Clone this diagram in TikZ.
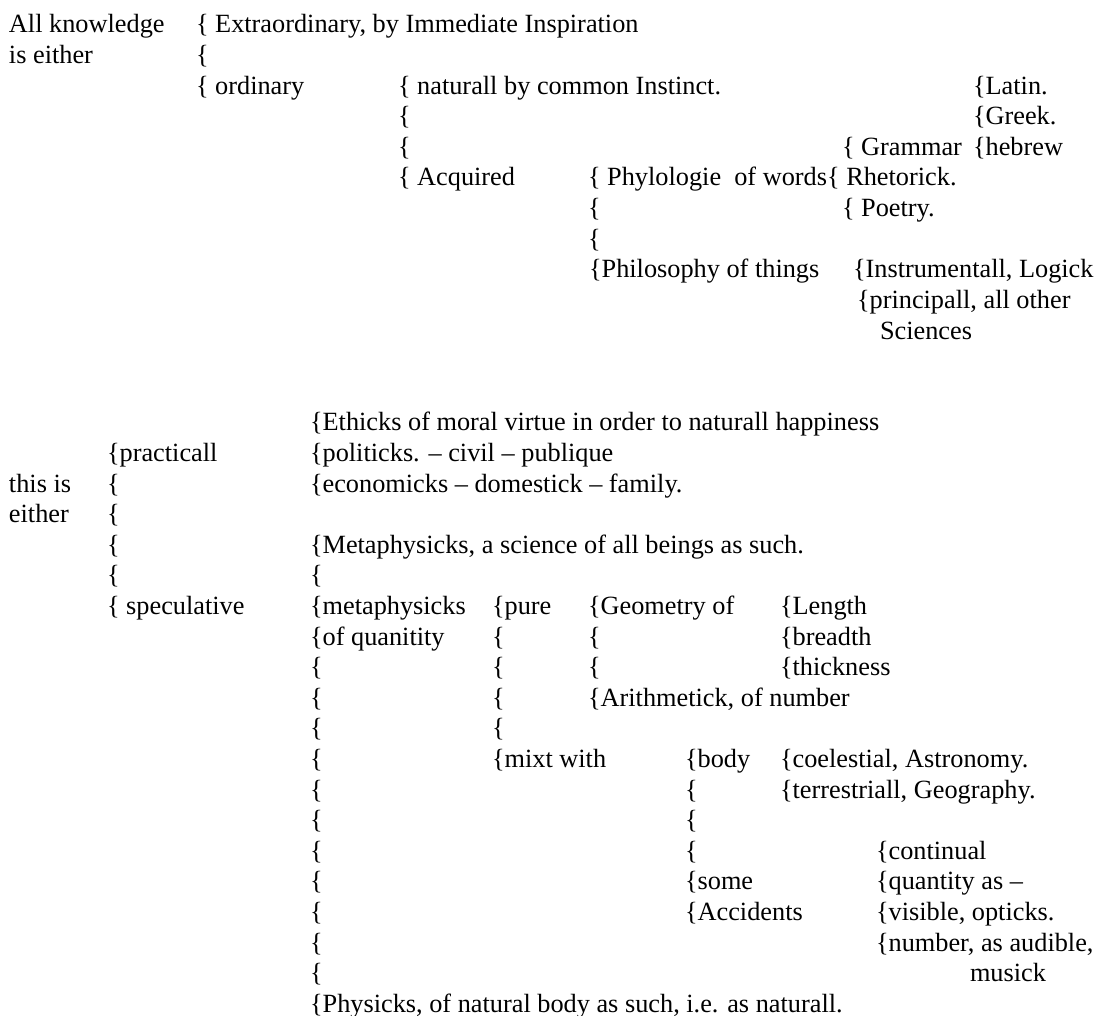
\documentclass[tikz,border=0pt]{standalone}
\usepackage{fontspec}
\setmainfont{Liberation Serif}
\newcommand{\rowfont}{\fontsize{26.3}{30.6}\selectfont}
\begin{document}
\begin{tikzpicture}[x=1pt,y=-1pt,
  txt/.style={anchor=base west, inner sep=0pt, outer sep=0pt, font=\rowfont, text=black}]
\fill[white] (0,0) rectangle (1099,1016);
\useasboundingbox (0,0) rectangle (1099,1016);
% ---- upper part ----
\node[txt] (allk) at (9,33) {All knowledge};
\node[txt] (iseither) at (9,63.6) {is either};
\node[txt] (extra) at (196,33) {\{ Extraordinary, by Immediate Inspiration};
\node[txt] (a1) at (196,63.6) {\{};
\node[txt] (ordinary) at (196,94.2) {\{ ordinary};
\node[txt] (naturall) at (398,94.2) {\{ naturall by common Instinct.};
\node[txt] (b1) at (398,124.8) {\{};
\node[txt] (b2) at (398,155.4) {\{};
\node[txt] (acquired) at (398,186) {\{ Acquired};
\node[txt] (latin) at (973,94.2) {\{Latin.};
\node[txt] (greek) at (973,124.8) {\{Greek.};
\node[txt] (hebrew) at (973,155.4) {\{hebrew};
\node[txt] (grammar) at (842,155.4) {\{ Grammar};
\node[txt] (phylo) at (588,186) {\{ Phylologie~ of words\{ Rhetorick.};
\node[txt] (c1) at (588,216.6) {\{};
\node[txt] (poetry) at (842,216.6) {\{ Poetry.};
\node[txt] (c2) at (588,247.2) {\{};
\node[txt] (philo) at (589,277.8) {\{Philosophy of things};
\node[txt] (instr) at (853,277.8) {\{Instrumentall, Logick};
\node[txt] (princ) at (857,308.4) {\{principall, all other};
\node[txt] (sciences) at (880,339) {Sciences};
% ---- lower part ----
\node[txt] (ethicks) at (310,430.8) {\{Ethicks of moral virtue in order to naturall happiness};
\node[txt] (practicall) at (107,461.4) {\{practicall};
\node[txt] (politicks) at (310,461.4) {\{politicks. – civil – publique};
\node[txt] (thisis) at (9,492) {this is};
\node[txt] (d1) at (107,492) {\{};
\node[txt] (econ) at (310,492) {\{economicks – domestick – family.};
\node[txt] (either) at (9,522.6) {either};
\node[txt] (d2) at (107,522.6) {\{};
\node[txt] (d3) at (107,553.2) {\{};
\node[txt] (metaph) at (310,553.2) {\{Metaphysicks, a science of all beings as such.};
\node[txt] (d4) at (107,583.8) {\{};
\node[txt] (e1) at (310,583.8) {\{};
\node[txt] (specul) at (107,614.4) {\{ speculative};
\node[txt] (metaq) at (310,614.4) {\{metaphysicks};
\node[txt] (pure) at (492,614.4) {\{pure};
\node[txt] (geom) at (588,614.4) {\{Geometry of};
\node[txt] (length) at (780,614.4) {\{Length};
\node[txt] (ofq) at (310,645) {\{of quanitity};
\node[txt] (f1) at (492,645) {\{};
\node[txt] (g1) at (588,645) {\{};
\node[txt] (breadth) at (780,645) {\{breadth};
\node[txt] (e2) at (310,675.6) {\{};
\node[txt] (f2) at (492,675.6) {\{};
\node[txt] (g2) at (588,675.6) {\{};
\node[txt] (thick) at (780,675.6) {\{thickness};
\node[txt] (e3) at (310,706.2) {\{};
\node[txt] (f3) at (492,706.2) {\{};
\node[txt] (arith) at (588,706.2) {\{Arithmetick, of number};
\node[txt] (e4) at (310,736.8) {\{};
\node[txt] (f4) at (492,736.8) {\{};
\node[txt] (e5) at (310,767.4) {\{};
\node[txt] (mixt) at (492,767.4) {\{mixt with};
\node[txt] (body) at (685,767.4) {\{body};
\node[txt] (coel) at (780,767.4) {\{coelestial, Astronomy.};
\node[txt] (e6) at (310,798) {\{};
\node[txt] (h1) at (685,798) {\{};
\node[txt] (terr) at (780,798) {\{terrestriall, Geography.};
\node[txt] (e7) at (310,828.6) {\{};
\node[txt] (h2) at (685,828.6) {\{};
\node[txt] (e8) at (310,859.2) {\{};
\node[txt] (h3) at (685,859.2) {\{};
\node[txt] (contin) at (876,859.2) {\{continual};
\node[txt] (e9) at (310,889.8) {\{};
\node[txt] (some) at (685,889.8) {\{some};
\node[txt] (quant) at (876,889.8) {\{quantity as –};
\node[txt] (e10) at (310,920.4) {\{};
\node[txt] (accid) at (685,920.4) {\{Accidents};
\node[txt] (visible) at (876,920.4) {\{visible, opticks.};
\node[txt] (e11) at (310,951) {\{};
\node[txt] (number) at (876,951) {\{number, as audible,};
\node[txt] (e12) at (310,981.6) {\{};
\node[txt] (musick) at (970,981.6) {musick};
\node[txt] (physicks) at (310,1012.2) {\{Physicks, of natural body as such, i.e. as naturall.};
\end{tikzpicture}
\end{document}
